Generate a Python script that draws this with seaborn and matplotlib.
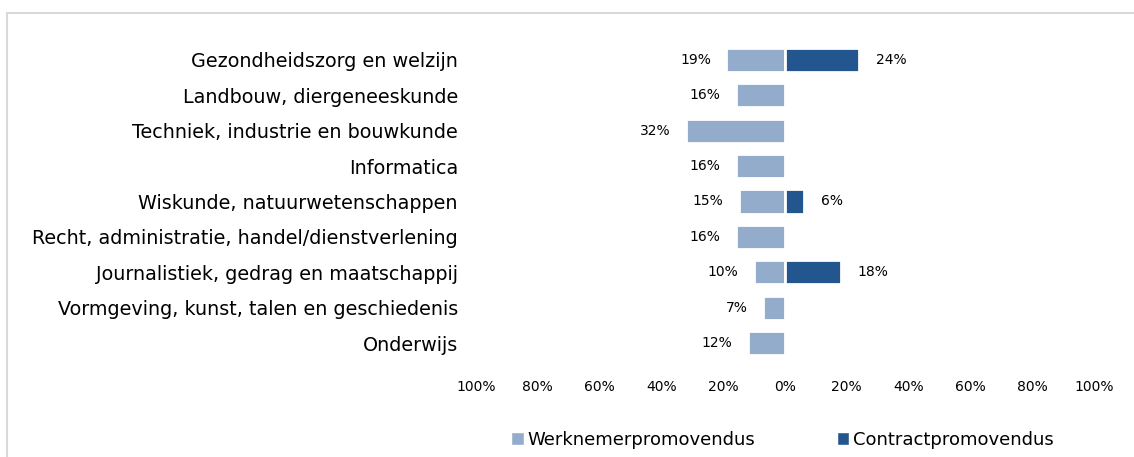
import numpy as np
import pandas as pd
import seaborn as sns
import matplotlib.pyplot as plt
from matplotlib.patches import Rectangle, Patch

# Data
categories = ['Gezondheidszorg en welzijn', 'Landbouw, diergeneeskunde',
              'Techniek, industrie en bouwkunde', 'Informatica',
              'Wiskunde, natuurwetenschappen',
              'Recht, administratie, handel/dienstverlening',
              'Journalistiek, gedrag en maatschappij',
              'Vormgeving, kunst, talen en geschiedenis', 'Onderwijs']
werknemer = [19, 16, 32, 16, 15, 16, 10, 7, 12]
contract = [24, np.nan, np.nan, np.nan, 6, np.nan, 18, np.nan, np.nan]
series_names = ['Werknemerpromovendus', 'Contractpromovendus']
tick_values = [-100, -80, -60, -40, -20, 0, 20, 40, 60, 80, 100]

light = '#93ACCB'
dark = '#23568F'

# Long table, employee values drawn to the left
df = pd.DataFrame({
    'categorie': categories * 2,
    'reeks': [series_names[0]] * len(categories) + [series_names[1]] * len(categories),
    'waarde': [-v for v in werknemer] + contract,
})

sns.set_style('white')
plt.rcParams['font.family'] = ['DejaVu Sans']
plt.rcParams['text.color'] = 'black'
plt.rcParams['xtick.color'] = 'black'
plt.rcParams['ytick.color'] = 'black'

fig = plt.figure(figsize=(11.34, 4.57), dpi=100)
ax = fig.add_axes([476 / 1134, 1 - 360.7 / 457, (1094 - 476) / 1134, (360.7 - 42.3) / 457])

sns.barplot(data=df, y='categorie', x='waarde', hue='reeks', dodge=False,
            palette=[light, dark], order=categories, hue_order=series_names,
            saturation=1, width=0.68, edgecolor='white', linewidth=2,
            legend=False, ax=ax)

ax.set_xlim(-100, 100)
ax.set_ylim(len(categories) - 0.5, -0.5)
ax.set_xticks(tick_values)
ax.set_xticklabels([f'{abs(t)}%' for t in tick_values], fontsize=10)
ax.tick_params(axis='x', length=0, pad=14)
ax.tick_params(axis='y', length=0, pad=13, labelsize=13.8)
ax.set_xlabel('')
ax.set_ylabel('')
sns.despine(ax=ax, left=True, bottom=True)

# Value labels
for i, v in enumerate(werknemer):
    ax.text(-v - 5, i, f'{v}%', ha='right', va='center', fontsize=10)
for i, v in enumerate(contract):
    if not np.isnan(v):
        ax.text(v + 5.5, i, f'{int(v)}%', ha='left', va='center', fontsize=10)

# Legend at the bottom
handles = [Patch(facecolor=light), Patch(facecolor=dark)]
fig.legend(handles, series_names, loc='center', bbox_to_anchor=(0.69, 1 - 440 / 457),
           ncol=2, frameon=False, fontsize=13, handlelength=0.7, handleheight=0.7,
           handletextpad=0.2, columnspacing=4.5)

# Light grey frame, cut off at the right and bottom
fig.patches.append(Rectangle((7 / 1134, -0.1), 1.2, 1.1 - 13 / 457,
                             transform=fig.transFigure, fill=False,
                             edgecolor='#D9D9D9', linewidth=1.5))

fig.savefig('out.png', dpi=100)
